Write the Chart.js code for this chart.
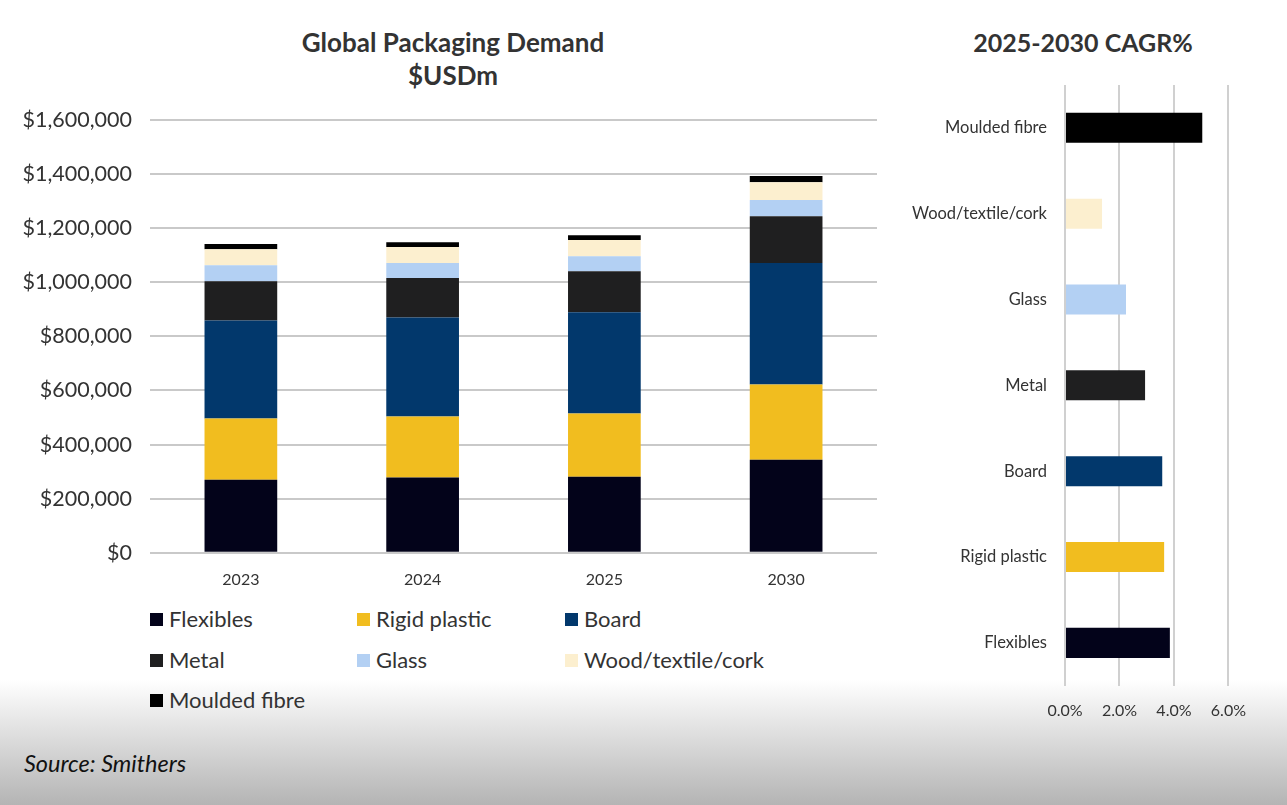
<!DOCTYPE html>
<html>
<head>
<meta charset="utf-8">
<script src="https://cdn.jsdelivr.net/npm/chart.js@4/dist/chart.umd.min.js"></script>
<style>
  body { margin: 0; width: 1287px; height: 805px; position: relative; overflow: hidden; background: #fff; font-family: Lato, "Open Sans", sans-serif; color: #333; }
  .fade { position: absolute; left: 0; top: 680px; width: 1287px; height: 125px; background: linear-gradient(#ffffff, #b4b4b4); }
  .title { position: absolute; font-weight: bold; text-align: center; color: #333; line-height: 33px; }
  #left { position: absolute; left: 0; top: 89px; }
  #right { position: absolute; left: 900px; top: 65px; }
  .legend { position: absolute; left: 150px; top: 605px; width: 640px; }
  .legend div { position: absolute; font-size: 22px; white-space: nowrap; }
  .legend span { display: inline-block; width: 13px; height: 13px; margin-right: 6px; vertical-align: 1px; }
  .source { position: absolute; left: 24px; top: 749px; font-size: 23.5px; font-style: italic; color: #111; }
</style>
</head>
<body>
<div class="fade"></div>
<div class="title" style="left:253px; top:26px; width:400px; font-size:26px;">Global Packaging Demand<br>$USDm</div>
<div class="title" style="left:933px; top:26px; width:300px; font-size:25px;">2025-2030 CAGR%</div>
<canvas id="left" width="900" height="509"></canvas>
<canvas id="right" width="361" height="670"></canvas>
<div class="legend" id="legend"></div>
<div class="source">Source: Smithers</div>
<script>
// values ($USDm)
const years = ['2023', '2024', '2025', '2030'];
const materials = ['Flexibles', 'Rigid plastic', 'Board', 'Metal', 'Glass', 'Wood/textile/cork', 'Moulded fibre'];
const colors = ['#03031a', '#f1bd1f', '#02386c', '#1f1f20', '#b3d0f3', '#fcefcf', '#000000'];

const flexibles = [270000, 278000, 281000, 344000];
const rigidPlastic = [226000, 226000, 234000, 278000];
const board = [363000, 366000, 374000, 449000];
const metal = [145000, 146000, 152000, 173000];
const glass = [59000, 55000, 55000, 60000];
const wood = [59000, 59000, 60000, 66000];
const mouldedFibre = [19000, 18000, 18000, 23000];

// CAGR 2025-2030 (%), same order as materials
const cagr = [3.85, 3.64, 3.57, 2.94, 2.24, 1.36, 5.04];

const series = [flexibles, rigidPlastic, board, metal, glass, wood, mouldedFibre];

Chart.defaults.font.family = 'Lato, "Open Sans", sans-serif';
Chart.defaults.color = '#333';

new Chart(document.getElementById('left'), {
  type: 'bar',
  data: {
    labels: years,
    datasets: materials.map((m, i) => ({
      label: m,
      data: series[i],
      backgroundColor: colors[i],
      barPercentage: 0.4,
      categoryPercentage: 1
    }))
  },
  options: {
    responsive: false,
    animation: false,
    layout: { padding: { top: 14, right: 23 } },
    plugins: { legend: { display: false }, tooltip: { enabled: false } },
    scales: {
      x: {
        stacked: true,
        grid: { display: false },
        border: { display: false },
        ticks: { font: { size: 16 }, color: '#333', padding: 9 }
      },
      y: {
        stacked: true,
        min: 0,
        max: 1600000,
        ticks: {
          stepSize: 200000,
          font: { size: 21.5 },
          color: '#333',
          padding: 18,
          callback: v => '$' + v.toLocaleString('en-US')
        },
        grid: { color: '#c9c9c9', lineWidth: 2, drawTicks: false },
        border: { display: false },
        afterFit: s => { s.width = 150; }
      }
    }
  }
});

// right chart shows categories top to bottom in reverse order
const cagrLabels = materials.slice().reverse();
const cagrValues = cagr.slice().reverse();
const cagrColors = colors.slice().reverse();

new Chart(document.getElementById('right'), {
  type: 'bar',
  data: {
    labels: cagrLabels,
    datasets: [{
      data: cagrValues,
      backgroundColor: cagrColors,
      barPercentage: 0.35,
      categoryPercentage: 1
    }]
  },
  options: {
    indexAxis: 'y',
    responsive: false,
    animation: false,
    layout: { padding: { top: 0, right: 8 } },
    plugins: { legend: { display: false }, tooltip: { enabled: false } },
    scales: {
      x: {
        min: 0,
        max: 6,
        ticks: {
          stepSize: 2,
          font: { size: 16 },
          color: '#333',
          padding: 15,
          callback: v => v.toFixed(1) + '%'
        },
        grid: { color: '#d0d0d0', lineWidth: 2, drawTicks: false },
        border: { display: false }
      },
      y: {
        grid: { display: false },
        border: { display: false },
        ticks: { font: { size: 16.5 }, color: '#333', padding: 10 },
        afterFit: s => { s.width = 165; }
      }
    }
  }
});

// legend in three columns
const legend = document.getElementById('legend');
const colX = [0, 207, 415];
materials.forEach((m, i) => {
  const d = document.createElement('div');
  d.style.left = colX[i % 3] + 'px';
  d.style.top = (Math.floor(i / 3) * 40.5) + 'px';
  d.innerHTML = '<span style="background:' + colors[i] + '"></span>' + m;
  legend.appendChild(d);
});
</script>
</body>
</html>
